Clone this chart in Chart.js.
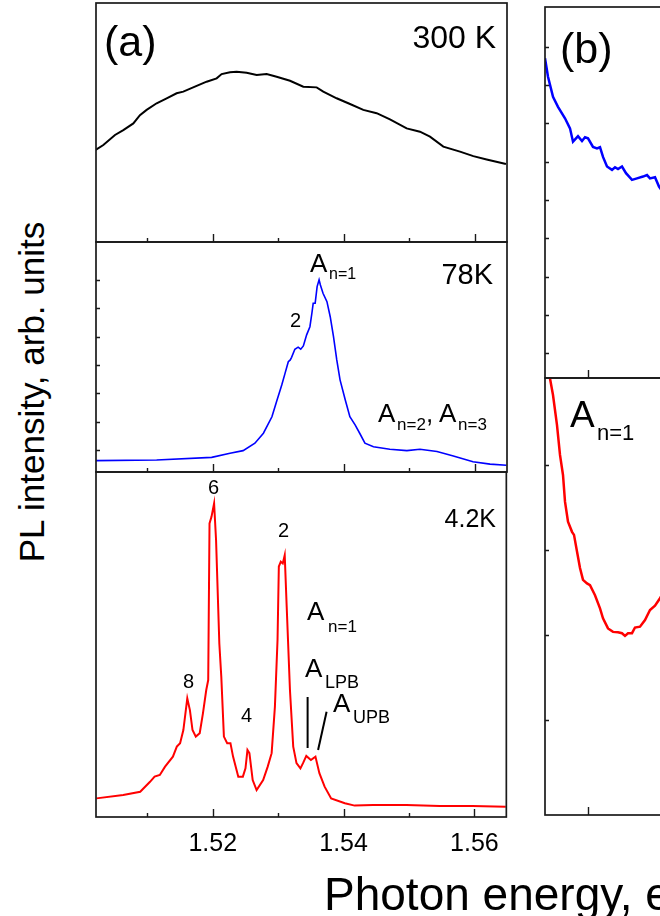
<!DOCTYPE html>
<html>
<head>
<meta charset="utf-8">
<script src="https://cdn.jsdelivr.net/npm/chart.js@4/dist/chart.umd.min.js"></script>
<style>
  html, body { margin: 0; padding: 0; background: #fff; }
  body { position: relative; width: 660px; height: 916px; overflow: hidden; }
  canvas { position: absolute; }
  .t { position: absolute; white-space: nowrap; line-height: 1; color: #000;
       font-family: "Liberation Sans", Arial, Helvetica, sans-serif; }
</style>
</head>
<body>
<script>
// ---- data: photon energy (eV) vs PL intensity (arb. units, 0-100 per panel) ----

// (a) 300 K
const e300 = [1.50209, 1.50326, 1.50504, 1.50631, 1.50784, 1.50885, 1.50987, 1.51140, 1.51293, 1.51445,
  1.51547, 1.51751, 1.51903, 1.52056, 1.52132, 1.52260, 1.52361, 1.52514, 1.52667, 1.52819,
  1.52972, 1.53176, 1.53379, 1.53583, 1.53684, 1.53888, 1.54092, 1.54295, 1.54499, 1.54702,
  1.54957, 1.55160, 1.55313, 1.55517, 1.55771, 1.55975, 1.56178, 1.56473]
const i300 = [38.0, 40.1, 44.3, 46.4, 49.2, 52.7, 54.9, 57.7, 59.8, 61.9,
  62.6, 65.0, 66.8, 68.2, 70.0, 70.8, 71.0, 70.6, 69.6, 70.0,
  68.9, 67.2, 64.7, 64.4, 62.6, 59.8, 57.4, 54.9, 53.5, 50.9,
  47.1, 45.7, 43.6, 39.4, 37.3, 35.4, 34.0, 32.1]

// (a) 78 K
const e78 = [1.5021, 1.5114, 1.5198, 1.5226, 1.5246, 1.5264, 1.5277, 1.5290, 1.5297, 1.5305,
  1.5310, 1.5315, 1.5318, 1.5320, 1.5325, 1.5330, 1.5334, 1.5338, 1.5343, 1.5348,
  1.5351, 1.5353, 1.5356, 1.5359, 1.5362, 1.5364, 1.5368, 1.5374, 1.5379, 1.5384,
  1.5389, 1.5394, 1.5402, 1.5409, 1.5417, 1.5424, 1.5432, 1.5445, 1.5470, 1.5496,
  1.5516, 1.5542, 1.5567, 1.5597, 1.5623, 1.5648]
const i78 = [4.9, 5.2, 6.3, 8.1, 9.2, 12.4, 16.7, 23.8, 30.3, 37.5,
  42.5, 47.5, 48.3, 49.4, 52.9, 53.8, 52.9, 54.3, 59.1, 62.6,
  68.4, 72.7, 72.7, 79.9, 82.8, 80.6, 77.0, 73.4, 66.9, 58.3,
  48.3, 39.7, 31.0, 23.8, 20.3, 16.7, 12.4, 10.9, 9.8, 9.2,
  9.8, 8.8, 6.9, 4.4, 3.4, 2.9]

// (a) 4.2 K
const e4 = [1.5022, 1.5063, 1.5089, 1.5104, 1.5111, 1.5119, 1.5127, 1.5139, 1.5145, 1.5150,
  1.5155, 1.5161, 1.5165, 1.5169, 1.5174, 1.5180, 1.5185, 1.5190, 1.5193, 1.5195,
  1.5198, 1.5202, 1.5205, 1.5210, 1.5213, 1.5217, 1.5222, 1.5227, 1.5231, 1.5239,
  1.5246, 1.5250, 1.5253, 1.5256, 1.5261, 1.5267, 1.5277, 1.5284, 1.5290, 1.5295,
  1.5299, 1.5301, 1.5304, 1.5307, 1.5310, 1.5313, 1.5318, 1.5323, 1.5328, 1.5334,
  1.5338, 1.5343, 1.5350, 1.5357, 1.5363, 1.5371, 1.5381, 1.5402, 1.5417, 1.5445,
  1.5496, 1.5547, 1.5597, 1.5648]
const i4 = [5.4, 6.4, 7.3, 10.2, 11.7, 12.2, 14.6, 17.5, 20.4, 21.4,
  25.2, 34.4, 31.0, 25.2, 23.3, 24.3, 30.1, 36.8, 39.7, 85.1,
  87.0, 90.9, 80.3, 50.3, 40.7, 23.3, 21.4, 21.4, 17.5, 11.7,
  11.7, 14.1, 19.4, 18.5, 10.7, 7.8, 10.7, 14.6, 18.5, 32.0,
  51.3, 72.6, 74.0, 73.5, 75.9, 61.0, 36.8, 20.4, 15.6, 14.1,
  15.6, 17.7, 16.5, 17.5, 12.7, 8.8, 5.4, 4.0, 3.3, 3.5,
  3.5, 3.2, 3.2, 3.0]

// polariton markers in the 4.2 K panel
const lpbMarkE = [1.5345, 1.5345]
const lpbMarkI = [34.8, 20.0]
const upbMarkE = [1.5374, 1.5361]
const upbMarkI = [30.5, 19.4]

// (b) close-up, upper (blue) and lower (red)
const eB1 = [1.53257, 1.53260, 1.53265, 1.53270, 1.53277, 1.53282, 1.53285, 1.53288, 1.53290, 1.53294,
  1.53297, 1.53300, 1.53305, 1.53309, 1.53312, 1.53315, 1.53319, 1.53324, 1.53327, 1.53330,
  1.53334, 1.53338, 1.53344, 1.53349, 1.53355, 1.53359, 1.53362, 1.53367, 1.53371, 1.53377]
const iB1 = [86.2, 81.2, 75.8, 73.1, 70.0, 67.3, 63.7, 64.6, 65.2, 63.9,
  64.9, 64.6, 62.3, 61.9, 62.2, 59.6, 57.0, 56.1, 56.8, 56.3,
  57.0, 55.2, 53.4, 53.8, 54.3, 54.7, 53.8, 54.1, 51.6, 49.3]

const eB2 = [1.53262, 1.53265, 1.53269, 1.53272, 1.53275, 1.53277, 1.53280, 1.53284, 1.53286, 1.53289,
  1.53292, 1.53295, 1.53299, 1.53302, 1.53307, 1.53312, 1.53315, 1.53320, 1.53325, 1.53330,
  1.53334, 1.53337, 1.53340, 1.53344, 1.53347, 1.53352, 1.53357, 1.53362, 1.53367, 1.53372, 1.53377]
const iB2 = [99.9, 96.1, 89.2, 82.4, 77.8, 71.7, 67.1, 64.8, 64.1, 60.3,
  56.5, 53.8, 53.0, 52.6, 50.3, 47.3, 45.0, 42.7, 41.9, 41.8,
  41.6, 41.0, 41.6, 41.6, 42.9, 43.1, 44.6, 46.9, 47.9, 49.6, 51.5]

// ticks
const xTicksA = [1.51, 1.52, 1.53, 1.54, 1.55, 1.56]
const xTicksB = [1.5330]
const yTicks78 = [9.5, 21.6, 34.1, 46.1, 58.2, 70.7, 82.8]
const yTicksB1 = [6.7, 17.0, 27.2, 37.7, 48.0, 58.2, 68.7, 79.0, 89.2]
const yTicksB2 = [21.7, 41.2, 60.6, 80.1]

// ---- rendering ----
const FONT = '"Liberation Sans", Arial, Helvetica, sans-serif'
const zip = (xs, ys) => xs.map((x, i) => ({ x, y: ys[i] }))
const isEven = v => Math.round(v * 100) % 2 === 0

// frame + inward ticks, placed through the chart's own scales
const framePlugin = {
  id: 'frame',
  afterDatasetsDraw(chart, args, opts) {
    const { ctx, chartArea: a, scales } = chart
    ctx.save()
    ctx.strokeStyle = '#1a1a1a'
    ctx.lineWidth = 1.7
    ctx.strokeRect(a.left, a.top, a.right - a.left, a.bottom - a.top)
    ctx.lineWidth = 1.4
    ctx.beginPath()
    for (const v of opts.xTicks || []) {
      const px = Math.round(scales.x.getPixelForValue(v)) + 0.5
      const len = opts.major(v) ? 8 : 4
      ctx.moveTo(px, a.bottom)
      ctx.lineTo(px, a.bottom - len)
    }
    for (const v of opts.yTicks || []) {
      const py = Math.round(scales.y.getPixelForValue(v)) + 0.5
      ctx.moveTo(a.left, py)
      ctx.lineTo(a.left + 4, py)
    }
    ctx.stroke()
    ctx.restore()
  }
}

function line(data, color, width) {
  return { data, borderColor: color, borderWidth: width, pointRadius: 0, tension: 0, fill: false }
}

function panel({ left, top, width, height, xMin, xMax, yMin, yMax, datasets, axis, frame }) {
  const m = 4
  const c = document.createElement('canvas')
  c.width = width + 2 * m
  c.height = height + m + (axis ? 60 : m)
  c.style.left = (left - m) + 'px'
  c.style.top = (top - m) + 'px'
  document.body.appendChild(c)

  const x = { type: 'linear', min: xMin, max: xMax, display: !!axis }
  if (axis) {
    Object.assign(x, {
      grid: { display: false, drawTicks: false },
      border: { display: false },
      ticks: {
        stepSize: 0.01, includeBounds: false, autoSkip: false, maxRotation: 0,
        padding: 12, color: '#000', font: { size: 25, family: FONT },
        callback: v => isEven(v) ? v.toFixed(2) : '',
      },
      afterFit: s => { s.height = 60 },
    })
  }

  return new Chart(c, {
    type: 'line',
    data: { datasets },
    options: {
      responsive: false,
      animation: false,
      layout: { padding: { left: m, right: m, top: m, bottom: axis ? 0 : m } },
      scales: { x, y: { type: 'linear', min: yMin, max: yMax, display: false } },
      plugins: { legend: { display: false }, tooltip: { enabled: false }, frame },
    },
    plugins: [framePlugin],
  })
}

const aLeft = 96, aWidth = 411
const aFrame = yTicks => ({ xTicks: xTicksA, yTicks, major: isEven })

panel({ left: aLeft, top: 3, width: aWidth, height: 239, xMin: 1.50214, xMax: 1.56489,
  yMin: -0.84, yMax: 100, datasets: [line(zip(e300, i300), '#000', 2)], frame: aFrame([]) })

panel({ left: aLeft, top: 242, width: aWidth, height: 230, xMin: 1.50214, xMax: 1.56489,
  yMin: 0, yMax: 99.1, datasets: [line(zip(e78, i78), '#0000ff', 1.6)], frame: aFrame(yTicks78) })

panel({ left: aLeft, top: 472, width: aWidth, height: 345, xMin: 1.50214, xMax: 1.56489,
  yMin: 0, yMax: 100, axis: true, frame: aFrame([]),
  datasets: [
    line(zip(e4, i4), '#ff0000', 2),
    line(zip(lpbMarkE, lpbMarkI), '#000', 2),
    line(zip(upbMarkE, upbMarkI), '#000', 2),
  ] })

const bFrame = yTicks => ({ xTicks: xTicksB, yTicks, major: () => true })

panel({ left: 545, top: 7, width: 120, height: 371, xMin: 1.53257, xMax: 1.53377,
  yMin: 0, yMax: 100, datasets: [line(zip(eB1, iB1), '#0000ff', 2.5)], frame: bFrame(yTicksB1) })

panel({ left: 545, top: 378, width: 120, height: 437, xMin: 1.53257, xMax: 1.53377,
  yMin: 0, yMax: 100, datasets: [line(zip(eB2, iB2), '#ff0000', 2.5)], frame: bFrame(yTicksB2) })

// ---- text: [text, x, baseline, size, anchor] ----
const texts = [
  ['(a)', 104, 56, 43],
  ['300 K', 496, 48, 32, 'right'],
  ['78K', 493, 285, 29, 'right'],
  ['A', 310, 272, 26], ['n=1', 329, 280, 16],
  ['2', 290, 327, 20],
  ['A', 378, 422, 26], ['n=2', 397, 430, 17], [',', 426, 422, 26],
  ['A', 439, 422, 26], ['n=3', 458, 430, 17],
  ['4.2K', 496, 527, 25, 'right'],
  ['6', 208, 494, 20],
  ['2', 278, 537, 20],
  ['8', 183, 688, 20],
  ['4', 241, 722, 20],
  ['A', 307, 620, 26], ['n=1', 328, 632, 17],
  ['A', 305, 677, 26], ['LPB', 325, 688, 18],
  ['A', 333, 712, 26], ['UPB', 353, 723, 18],
  ['(b)', 560, 63, 43],
  ['A', 570, 427, 37], ['n=1', 597, 441, 22],
  ['Photon energy, eV', 324, 910, 46],
]
for (const [s, x, base, size, anchor] of texts) {
  const d = document.createElement('div')
  d.className = 't'
  d.textContent = s
  d.style.fontSize = size + 'px'
  d.style.left = x + 'px'
  d.style.top = (base - 0.8465 * size) + 'px'
  if (anchor === 'right') d.style.transform = 'translateX(-100%)'
  document.body.appendChild(d)
}

// rotated y title
const yt = document.createElement('div')
yt.className = 't'
yt.textContent = 'PL intensity, arb. units'
yt.style.fontSize = '35px'
yt.style.left = '31px'
yt.style.top = '392px'
yt.style.transform = 'translate(-50%, -50%) rotate(-90deg)'
document.body.appendChild(yt)
</script>
</body>
</html>
